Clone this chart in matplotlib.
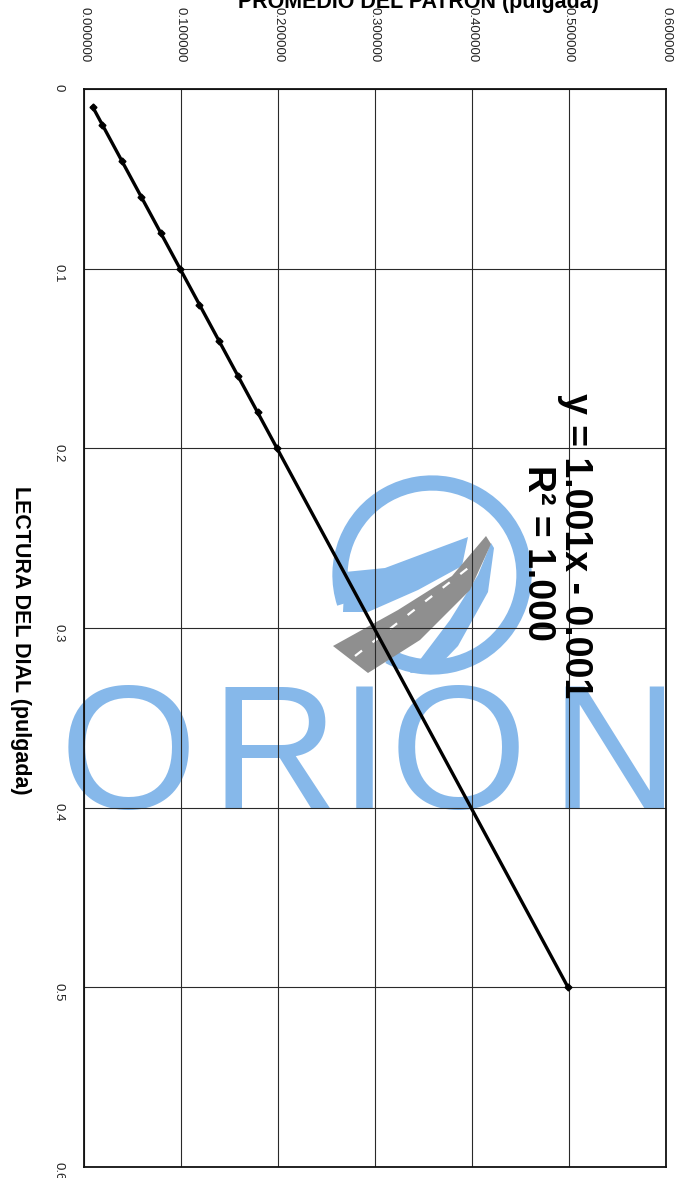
import matplotlib

matplotlib.use("Agg")
from matplotlib import pyplot as plt
from matplotlib.patches import Arc, Polygon

plt.rcParams["font.family"] = ["Liberation Sans", "DejaVu Sans"]

# calibration data (pulgada)
DIAL_READING = [0.01, 0.02, 0.04, 0.06, 0.08, 0.10, 0.12, 0.14, 0.16, 0.18, 0.20, 0.50]
PATTERN_MEAN = [0.009, 0.019, 0.039, 0.059, 0.079, 0.099, 0.119, 0.139, 0.159, 0.179, 0.199, 0.499]

PATTERN_TICKS = [0.0, 0.1, 0.2, 0.3, 0.4, 0.5, 0.6]
PATTERN_TICK_LABELS = ["0.000000", "0.100000", "0.200000", "0.300000", "0.400000", "0.500000", "0.600000"]
DIAL_TICKS = [0.0, 0.1, 0.2, 0.3, 0.4, 0.5, 0.6]
DIAL_TICK_LABELS = ["0", "0.1", "0.2", "0.3", "0.4", "0.5", "0.6"]

EQUATION = "y = 1.001x - 0.001"
R_SQUARED = "R² = 1.000"
WATERMARK = "ORION"

W, H = 681, 1178
BLUE = "#86b8ea"
GREY = "#8f8f8f"


def px(x, y):
    # pixel from top-left -> background axes coords (y up)
    return (x, H - y)


figure = plt.figure(figsize=(W / 100, H / 100), dpi=100)

# watermark layer, drawn in pixel units underneath the chart
bg = figure.add_axes([0, 0, 1, 1], zorder=0)
bg.set_xlim(0, W)
bg.set_ylim(0, H)
bg.axis("off")

bg.add_patch(Arc(px(432, 575), 184, 184, theta1=242, theta2=198 + 360,
                 color=BLUE, linewidth=11))
upper_swoosh = [(345, 572), (385, 568), (433, 550), (468, 537),
                (462, 566), (418, 590), (368, 612), (343, 612)]
lower_swoosh = [(410, 673), (450, 620), (478, 575), (491, 543),
                (494, 548), (488, 592), (458, 646), (434, 671)]
road = [(333, 646), (398, 610), (452, 576), (486, 536),
        (491, 544), (470, 590), (420, 640), (368, 673)]
for shape, color in ((upper_swoosh, BLUE), (lower_swoosh, BLUE), (road, GREY)):
    bg.add_patch(Polygon([px(x, y) for x, y in shape], closed=True,
                         facecolor=color, edgecolor="none"))
bg.plot([px(355, 656)[0], px(472, 565)[0]], [px(355, 656)[1], px(472, 565)[1]],
        color="white", linewidth=1.6, dashes=(4, 6))

for letter, xc in zip(WATERMARK, [128, 274, 364, 458, 614]):
    bg.text(xc, H - 808, letter, ha="center", va="baseline", fontsize=127,
            color=BLUE, family="Liberation Sans")

# chart
left, right, top, bottom = 84, 666, 89, 1167
ax = figure.add_axes([left / W, 1 - bottom / H, (right - left) / W, (bottom - top) / H], zorder=1)
ax.patch.set_alpha(0)

ax.plot(PATTERN_MEAN, DIAL_READING, color="black", linewidth=2.4,
        marker="D", markersize=3.5, zorder=3)

ax.set_xlim(0, 0.6)
ax.set_ylim(0.6, 0)
ax.xaxis.tick_top()
ax.set_xticks(PATTERN_TICKS)
ax.set_xticklabels(PATTERN_TICK_LABELS, rotation=-90, fontsize=9.5, color="#222222")
ax.set_yticks(DIAL_TICKS)
ax.set_yticklabels(DIAL_TICK_LABELS, rotation=-90, fontsize=9.5, color="#222222")
ax.tick_params(axis="x", length=0, pad=19)
ax.tick_params(axis="y", length=0, pad=14)
ax.grid(True, color="#2a2a2a", linewidth=0.8)
for spine in ax.spines.values():
    spine.set_color("#111111")
    spine.set_linewidth(1.3)

ax.text(0.506, 0.254, EQUATION, rotation=-90, ha="center", va="center",
        fontsize=27, fontweight="bold", zorder=4)
ax.text(0.468, 0.258, R_SQUARED, rotation=-90, ha="center", va="center",
        fontsize=27, fontweight="bold", zorder=4)

figure.text(418 / W, 1 - 8 / H, "PROMEDIO DEL PATRON (pulgada)", ha="center",
            va="baseline", fontsize=15.5, fontweight="bold")
figure.text(20 / W, 1 - 640 / H, "LECTURA DEL DIAL (pulgada)", rotation=-90,
            ha="center", va="center", fontsize=15.5, fontweight="bold")

figure.savefig("out.png", dpi=100)
plt.close(figure)
